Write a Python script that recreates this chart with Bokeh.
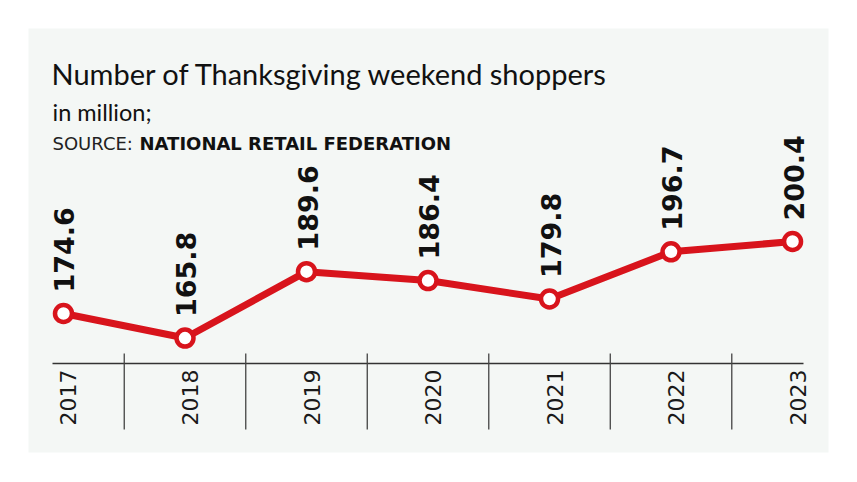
import math
from bokeh.plotting import figure
from bokeh.models import ColumnDataSource
from bokeh.core.properties import value
from bokeh.embed import file_html
from bokeh.resources import INLINE

# ---- data ----
years = ["2017", "2018", "2019", "2020", "2021", "2022", "2023"]
shoppers = [174.6, 165.8, 189.6, 186.4, 179.8, 196.7, 200.4]
value_labels = ["174.6", "165.8", "189.6", "186.4", "179.8", "196.7", "200.4"]

title_text = "Number of Thanksgiving weekend shoppers"
subtitle_text = "in million;"
source_prefix = "SOURCE:"
source_name = "NATIONAL RETAIL FEDERATION"

# ---- layout ----
W, H = 850, 475
ML, MT = 28, 28
MR, MB = W - 828, H - 452
FW, FH = W - ML - MR, H - MT - MB

X_START, X_END = -0.288, 6.296
Y_START, Y_END = 124.78, 276.75

def px_x(px):  # page pixel x -> data x
    fx = px - ML
    return X_START + fx / FW * (X_END - X_START)

def px_y(py):
    fy = py - MT
    return Y_END - fy / FH * (Y_END - Y_START)

RED = "#d8141c"
BG = "#f4f7f5"
TFONT = "Lato"

p = figure(width=W, height=H, output_backend="svg", toolbar_location=None,
           x_range=(X_START, X_END), y_range=(Y_START, Y_END),
           min_border_left=ML, min_border_right=MR, min_border_top=MT, min_border_bottom=MB)
p.background_fill_color = BG
p.border_fill_color = "white"
p.outline_line_color = None
p.xaxis.visible = False
p.yaxis.visible = False
p.grid.visible = False

xs = list(range(len(years)))
src = ColumnDataSource(dict(x=xs, y=shoppers, lab=value_labels, yr=years,
                            axy=[px_y(363)] * len(years)))

# axis line and separators
p.segment(x0=[px_x(52)], y0=[px_y(363)], x1=[px_x(803)], y1=[px_y(363)],
          line_color="#333333", line_width=1.3)
sep_x = [i + 0.5 for i in range(len(years) - 1)]
p.segment(x0=sep_x, y0=[px_y(353)] * len(sep_x), x1=sep_x, y1=[px_y(429)] * len(sep_x),
          line_color="#444444", line_width=1.3)

# year labels
p.text(x="x", y="axy", text="yr", source=src, angle=math.pi / 2,
       text_align="center", text_baseline="middle", x_offset=5, y_offset=34,
       text_font=value("DejaVu Sans"), text_font_size="22px", text_color="#1a1a1a")

# line + markers
p.line(x="x", y="y", source=src, line_color=RED, line_width=7)
p.scatter(x="x", y="y", source=src, size=17, fill_color="white",
          line_color=RED, line_width=4.5)

# value labels
p.text(x="x", y="y", text="lab", source=src, angle=math.pi / 2,
       text_align="left", text_baseline="middle", x_offset=1, y_offset=-21,
       text_font=value("DejaVu Sans"), text_font_style="bold",
       text_font_size="27px", text_color="#111111")

# titles (text glyphs)
p.text(x=[px_x(51)], y=[px_y(73)], text=[title_text], text_baseline="middle",
       text_font=value(TFONT), text_font_size="29px", text_color="#111111")
p.text(x=[px_x(52)], y=[px_y(111)], text=[subtitle_text], text_baseline="middle",
       text_font=value(TFONT), text_font_size="23.5px", text_color="#111111")
p.text(x=[px_x(52)], y=[px_y(143)], text=[source_prefix], text_baseline="middle",
       text_font=value("DejaVu Sans"), text_font_size="18px", text_color="#222222")
p.text(x=[px_x(139)], y=[px_y(143)], text=[source_name], text_baseline="middle",
       text_font=value("DejaVu Sans"), text_font_style="bold", text_font_size="18px",
       text_color="#111111")

open("out.html", "w").write(file_html(p, INLINE))
